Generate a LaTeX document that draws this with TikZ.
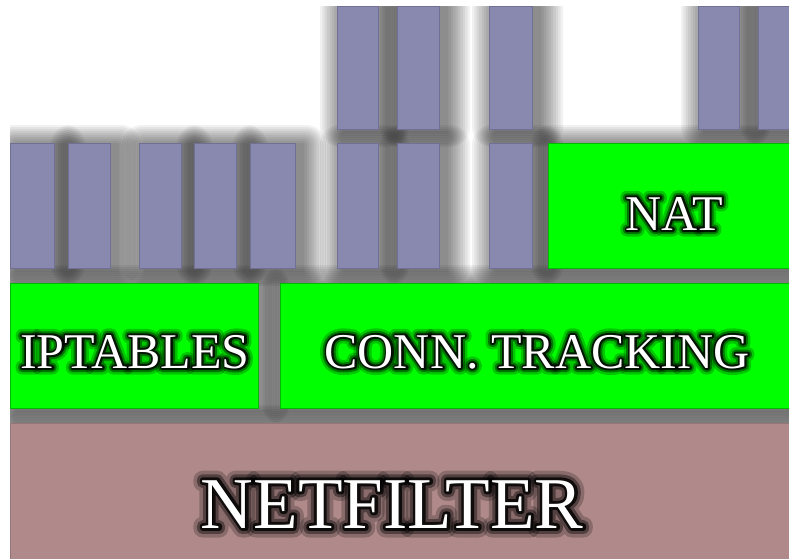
\documentclass[tikz,border=0pt]{standalone}
\usepackage{fontspec}
\setmainfont{Liberation Serif}
% emboldened copies of the face, used for the dark glow behind labels
\newfontfamily\glowwide{Liberation Serif}[RawFeature={embolden=26}]
\newfontfamily\glowmid{Liberation Serif}[RawFeature={embolden=16}]
\newfontfamily\glownarrow{Liberation Serif}[RawFeature={embolden=8}]
\usetikzlibrary{fit}

\definecolor{barblue}{RGB}{137,137,176}
\definecolor{barblueedge}{RGB}{112,112,150}
\definecolor{layergreen}{RGB}{0,255,0}
\definecolor{layergreenedge}{RGB}{0,185,0}
\definecolor{baserose}{RGB}{176,138,138}

\tikzset{
  boxnode/.style={rectangle, inner sep=0pt, outer sep=0pt},
  bluebar/.style={boxnode, fill=barblue, draw=barblueedge, line width=0.8pt},
  greenlayer/.style={boxnode, fill=layergreen, draw=layergreenedge, line width=0.8pt},
  baselayer/.style={boxnode, fill=baserose, draw=baserose!85!black, line width=0.6pt},
  labeltext/.style={text=white, anchor=base, inner sep=0pt, outer sep=0pt},
  glowtext/.style={text=black, anchor=base, inner sep=0pt, outer sep=0pt, line join=round, line cap=round},
}

% soft shadow around a block, cast a little to the right
\newcommand\softshade[4]{%
  \foreach \d in {1,...,10}{%
    \fill[black, fill opacity=0.056, rounded corners=\d*2]
      (#1+7-\d*2.4,#2+2-\d*2) rectangle (#3+7+\d*2.4,#4+2+\d*1.6);
  }%
}

% white label with a dark glow
\newcommand\glowlabel[5]{%
  \node[glowtext, opacity=0.22] (#1-outer) at (#2,#3) {\glowwide\fontsize{#4}{#4}\selectfont #5};
  \node[glowtext, opacity=0.4] (#1-mid) at (#2,#3) {\glowmid\fontsize{#4}{#4}\selectfont #5};
  \node[glowtext, opacity=0.8] (#1-inner) at (#2,#3) {\glownarrow\fontsize{#4}{#4}\selectfont #5};
  \node[labeltext] (#1) at (#2,#3) {\fontsize{#4}{#4}\selectfont #5};
}

\begin{document}
\begin{tikzpicture}[x=1pt,y=-1pt]
  \useasboundingbox (0,0) rectangle (789,558);
  \fill[white] (0,0) rectangle (789,558);

  \begin{scope}
    \clip (10,6) rectangle (789,558);

    % shadows first
    \foreach \xa/\xb in {337/378,397/439,489/532,698/739,758/800}{\softshade{\xa}{6}{\xb}{129}}
    \foreach \xa/\xb in {10/54,68/110,139/181,194/236,250/295,337/378,397/439,489/532,548/800}{\softshade{\xa}{143}{\xb}{268}}
    \softshade{10}{283}{258}{408}
    \softshade{280}{283}{800}{408}
    \softshade{10}{423}{800}{580}

    % upper row of bars
    \node[bluebar, fit={(337,6) (378,129)}] (top1) {};
    \node[bluebar, fit={(397,6) (439,129)}] (top2) {};
    \node[bluebar, fit={(489,6) (532,129)}] (top3) {};
    \node[bluebar, fit={(698,6) (739,129)}] (top4) {};
    \node[bluebar, fit={(758,6) (800,129)}] (top5) {};

    % lower row of bars
    \node[bluebar, fit={(10,143) (54,268)}] (low1) {};
    \node[bluebar, fit={(68,143) (110,268)}] (low2) {};
    \node[bluebar, fit={(139,143) (181,268)}] (low3) {};
    \node[bluebar, fit={(194,143) (236,268)}] (low4) {};
    \node[bluebar, fit={(250,143) (295,268)}] (low5) {};
    \node[bluebar, fit={(337,143) (378,268)}] (low6) {};
    \node[bluebar, fit={(397,143) (439,268)}] (low7) {};
    \node[bluebar, fit={(489,143) (532,268)}] (low8) {};
    \node[greenlayer, fit={(548,143) (800,268)}] (nat) {};

    % middle layer
    \node[greenlayer, fit={(10,283) (258,408)}] (iptables) {};
    \node[greenlayer, fit={(280,283) (800,408)}] (conntrack) {};

    % base layer
    \node[baselayer, fit={(10,423) (800,580)}] (netfilter) {};
  \end{scope}

  % labels
  \glowlabel{natlabel}{674}{230}{50}{NAT}
  \glowlabel{iptlabel}{135}{368}{50}{IPTABLES}
  \glowlabel{ctlabel}{537}{368}{50}{CONN. TRACKING}
  \glowlabel{nflabel}{392}{528}{73}{NETFILTER}
\end{tikzpicture}
\end{document}
